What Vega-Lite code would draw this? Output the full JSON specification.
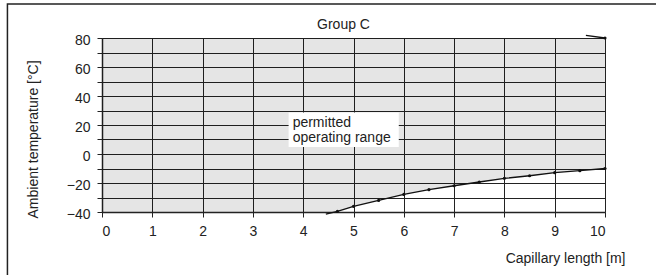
{
  "$schema": "https://vega.github.io/schema/vega-lite/v6.json",
  "width": 503,
  "height": 174,
  "autosize": {"type": "none"},
  "padding": {"left": 102, "top": 38, "right": 51, "bottom": 63},
  "background": "white",
  "config": {
    "view": {"stroke": null},
    "font": "Liberation Sans",
    "axis": {
      "labelFont": "Liberation Sans",
      "titleFont": "Liberation Sans",
      "labelFontSize": 14,
      "titleFontSize": 14,
      "titleFontWeight": "normal",
      "labelColor": "#222",
      "titleColor": "#222",
      "gridColor": "#222",
      "gridOpacity": 1,
      "gridWidth": 1,
      "tickColor": "#222",
      "tickSize": 5,
      "domainColor": "#222",
      "domainWidth": 1.5,
      "labelPadding": 7,
      "labelOverlap": false
    },
    "axisX": {
      "grid": true,
      "titleX": 523,
      "titleY": 50,
      "titleAlign": "right",
      "titleBaseline": "alphabetic"
    },
    "axisY": {
      "grid": true,
      "labelOffset": 2,
      "titleX": -64.5,
      "titleY": 180,
      "titleAngle": 270,
      "titleAlign": "left",
      "titleBaseline": "alphabetic"
    }
  },
  "title": {
    "text": "Group C",
    "font": "Liberation Sans",
    "fontSize": 14,
    "fontWeight": "normal",
    "color": "#222",
    "anchor": "middle",
    "frame": "group",
    "dx": -10,
    "offset": 0,
    "dy": 40,
    "baseline": "alphabetic"
  },
  "datasets": {
    "curve": [
      {"x": 0, "y": -40},
      {"x": 4.45, "y": -41.5},
      {"x": 4.68, "y": -39.6},
      {"x": 5.0, "y": -36.1},
      {"x": 5.5, "y": -32},
      {"x": 6.0, "y": -27.9},
      {"x": 6.5, "y": -24.6},
      {"x": 7.0, "y": -21.9},
      {"x": 7.5, "y": -19.3},
      {"x": 8.0, "y": -16.8},
      {"x": 8.5, "y": -15},
      {"x": 9.0, "y": -12.9},
      {"x": 9.5, "y": -11.5},
      {"x": 10, "y": -10}
    ],
    "stub": [
      {"x": 9.62, "y": 81.8},
      {"x": 10, "y": 80}
    ]
  },
  "layer": [
    {
      "data": {"name": "curve"},
      "mark": {"type": "area", "color": "black", "fillOpacity": 0.1, "clip": true},
      "encoding": {
        "x": {"field": "x", "type": "quantitative", "scale": {"domain": [0, 10], "nice": false, "zero": false},
          "axis": {"values": [0, 1, 2, 3, 4, 5, 6, 7, 8, 9, 10], "title": "Capillary length [m]"}},
        "y": {"field": "y", "type": "quantitative", "scale": {"domain": [-40, 80], "nice": false, "zero": false},
          "axis": {"values": [-40, -30, -20, -10, 0, 10, 20, 30, 40, 50, 60, 70, 80], "labelExpr": "datum.value % 20 == 0 ? datum.label : ''", "title": "Ambient temperature [°C]"}},
        "y2": {"datum": 80}
      }
    },
    {
      "data": {"values": [{}]},
      "mark": {"type": "rect", "fill": "white", "stroke": null},
      "encoding": {
        "x": {"datum": 3.71, "type": "quantitative", "scale": {"domain": [0, 10], "nice": false, "zero": false},
          "axis": {"values": [0, 1, 2, 3, 4, 5, 6, 7, 8, 9, 10], "title": "Capillary length [m]"}},
        "x2": {"datum": 5.9},
        "y": {"datum": 28.7, "type": "quantitative", "scale": {"domain": [-40, 80], "nice": false, "zero": false},
          "axis": {"values": [-40, -30, -20, -10, 0, 10, 20, 30, 40, 50, 60, 70, 80], "labelExpr": "datum.value % 20 == 0 ? datum.label : ''", "title": "Ambient temperature [°C]"}},
        "y2": {"datum": 4.9}
      }
    },
    {
      "data": {"values": [{}]},
      "mark": {
        "type": "text",
        "text": ["permitted", "operating range"],
        "align": "left",
        "baseline": "alphabetic",
        "lineHeight": 14.4,
        "fontSize": 14,
        "font": "Liberation Sans",
        "color": "#222"
      },
      "encoding": {
        "x": {"datum": 3.79, "type": "quantitative", "scale": {"domain": [0, 10], "nice": false, "zero": false},
          "axis": {"values": [0, 1, 2, 3, 4, 5, 6, 7, 8, 9, 10], "title": "Capillary length [m]"}},
        "y": {"datum": 18.3, "type": "quantitative", "scale": {"domain": [-40, 80], "nice": false, "zero": false},
          "axis": {"values": [-40, -30, -20, -10, 0, 10, 20, 30, 40, 50, 60, 70, 80], "labelExpr": "datum.value % 20 == 0 ? datum.label : ''", "title": "Ambient temperature [°C]"}}
      }
    },
    {
      "data": {"name": "curve"},
      "transform": [{"filter": "datum.x > 1"}],
      "mark": {"type": "line", "color": "#111", "strokeWidth": 1.3, "clip": false},
      "encoding": {
        "x": {"field": "x", "type": "quantitative", "scale": {"domain": [0, 10], "nice": false, "zero": false},
          "axis": {"values": [0, 1, 2, 3, 4, 5, 6, 7, 8, 9, 10], "title": "Capillary length [m]"}},
        "y": {"field": "y", "type": "quantitative", "scale": {"domain": [-40, 80], "nice": false, "zero": false},
          "axis": {"values": [-40, -30, -20, -10, 0, 10, 20, 30, 40, 50, 60, 70, 80], "labelExpr": "datum.value % 20 == 0 ? datum.label : ''", "title": "Ambient temperature [°C]"}}
      }
    },
    {
      "data": {"name": "curve"},
      "transform": [{"filter": "datum.x > 4.6"}],
      "mark": {"type": "point", "filled": true, "color": "#111", "size": 10, "opacity": 1},
      "encoding": {
        "x": {"field": "x", "type": "quantitative", "scale": {"domain": [0, 10], "nice": false, "zero": false},
          "axis": {"values": [0, 1, 2, 3, 4, 5, 6, 7, 8, 9, 10], "title": "Capillary length [m]"}},
        "y": {"field": "y", "type": "quantitative", "scale": {"domain": [-40, 80], "nice": false, "zero": false},
          "axis": {"values": [-40, -30, -20, -10, 0, 10, 20, 30, 40, 50, 60, 70, 80], "labelExpr": "datum.value % 20 == 0 ? datum.label : ''", "title": "Ambient temperature [°C]"}}
      }
    },
    {
      "data": {"name": "stub"},
      "mark": {"type": "line", "color": "#111", "strokeWidth": 1.3, "clip": false},
      "encoding": {
        "x": {"field": "x", "type": "quantitative", "scale": {"domain": [0, 10], "nice": false, "zero": false},
          "axis": {"values": [0, 1, 2, 3, 4, 5, 6, 7, 8, 9, 10], "title": "Capillary length [m]"}},
        "y": {"field": "y", "type": "quantitative", "scale": {"domain": [-40, 80], "nice": false, "zero": false},
          "axis": {"values": [-40, -30, -20, -10, 0, 10, 20, 30, 40, 50, 60, 70, 80], "labelExpr": "datum.value % 20 == 0 ? datum.label : ''", "title": "Ambient temperature [°C]"}}
      }
    },
    {
      "data": {"name": "stub"},
      "transform": [{"filter": "datum.x == 10"}],
      "mark": {"type": "point", "filled": true, "color": "#111", "size": 10, "opacity": 1},
      "encoding": {
        "x": {"field": "x", "type": "quantitative", "scale": {"domain": [0, 10], "nice": false, "zero": false},
          "axis": {"values": [0, 1, 2, 3, 4, 5, 6, 7, 8, 9, 10], "title": "Capillary length [m]"}},
        "y": {"field": "y", "type": "quantitative", "scale": {"domain": [-40, 80], "nice": false, "zero": false},
          "axis": {"values": [-40, -30, -20, -10, 0, 10, 20, 30, 40, 50, 60, 70, 80], "labelExpr": "datum.value % 20 == 0 ? datum.label : ''", "title": "Ambient temperature [°C]"}}
      }
    },
    {
      "data": {"values": [{}]},
      "mark": {"type": "rect", "fill": null, "stroke": "#222", "strokeWidth": 1.5, "clip": false},
      "encoding": {
        "x": {"datum": -1.88, "type": "quantitative", "scale": {"domain": [0, 10], "nice": false, "zero": false},
          "axis": {"values": [0, 1, 2, 3, 4, 5, 6, 7, 8, 9, 10], "title": "Capillary length [m]"}},
        "x2": {"datum": 12},
        "y": {"datum": 103.5, "type": "quantitative", "scale": {"domain": [-40, 80], "nice": false, "zero": false},
          "axis": {"values": [-40, -30, -20, -10, 0, 10, 20, 30, 40, 50, 60, 70, 80], "labelExpr": "datum.value % 20 == 0 ? datum.label : ''", "title": "Ambient temperature [°C]"}},
        "y2": {"datum": -90}
      }
    }
  ]
}
